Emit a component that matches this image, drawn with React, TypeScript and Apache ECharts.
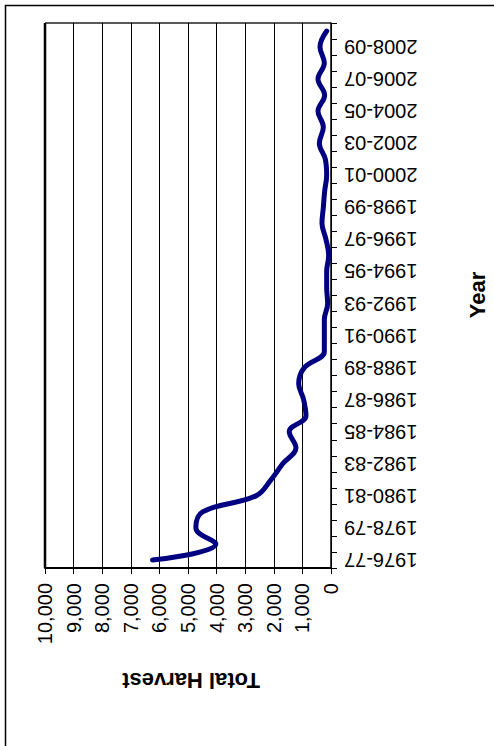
import React, { useEffect, useRef } from "react";
import * as echarts from "echarts";

const categories = [
  "1976-77", "1977-78", "1978-79", "1979-80", "1980-81", "1981-82", "1982-83", "1983-84",
  "1984-85", "1985-86", "1986-87", "1987-88", "1988-89", "1989-90", "1990-91", "1991-92",
  "1992-93", "1993-94", "1994-95", "1995-96", "1996-97", "1997-98", "1998-99", "1999-00",
  "2000-01", "2001-02", "2002-03", "2003-04", "2004-05", "2005-06", "2006-07", "2007-08",
  "2008-09", "2009-10",
];

const harvest = [
  6240, 4025, 4725, 4490, 2625, 2100, 1690, 1225,
  1460, 875, 957, 1130, 933, 233, 233, 233,
  117, 152, 152, 82, 175, 315, 268, 222,
  152, 198, 408, 268, 455, 222, 455, 233,
  385, 150,
];

const valueTicks = { min: 0, max: 10000, interval: 1000 };
const valueAxisTitle = "Total Harvest";
const categoryAxisTitle = "Year";

const FONT = "Arial, 'Liberation Sans', sans-serif";

export default function App() {
  const ref = useRef<HTMLDivElement>(null);
  useEffect(() => {
    if (!ref.current) return;
    const chart = echarts.init(ref.current, undefined, { renderer: "svg" });
    chart.setOption({
      animation: false,
      backgroundColor: "#ffffff",
      grid: { left: 45, right: 163, top: 23, bottom: 178, containLabel: false, show: false },
      xAxis: {
        type: "value",
        inverse: true,
        position: "bottom",
        min: valueTicks.min,
        max: valueTicks.max,
        interval: valueTicks.interval,
        axisLine: { show: true, lineStyle: { color: "#000", width: 2 } },
        axisTick: { show: true, length: 6, lineStyle: { color: "#000", width: 1 } },
        splitLine: { show: true, lineStyle: { color: "#000", width: 1 } },
        axisLabel: {
          rotate: 90,
          margin: 15,
          color: "#000",
          fontSize: 20,
          fontFamily: FONT,
          formatter: (v: number) => v.toLocaleString("en-US"),
        },
      },
      yAxis: {
        type: "category",
        position: "right",
        data: categories,
        boundaryGap: true,
        axisLine: { show: true, onZero: false, lineStyle: { color: "#000", width: 1.5 } },
        axisTick: { show: true, interval: 0, length: 6, alignWithLabel: false, lineStyle: { color: "#000", width: 1 } },
        splitLine: { show: false },
        axisLabel: {
          interval: 1,
          rotate: 180,
          margin: 13,
          color: "#000",
          fontSize: 20,
          fontFamily: FONT,
        },
      },
      series: [
        {
          type: "line",
          data: harvest.map((v, i) => [v, categories[i]]),
          smooth: 0.4,
          symbol: "none",
          lineStyle: { color: "#000080", width: 5, cap: "round", join: "round" },
        },
      ],
      graphic: [
        {
          type: "rect",
          shape: { x: 5.5, y: 5.5, width: 700, height: 900 },
          style: { fill: "none", stroke: "#000", lineWidth: 1.5 },
          silent: true,
        },
        {
          type: "line",
          shape: { x1: 45, y1: 23, x2: 331, y2: 23 },
          style: { stroke: "#222", lineWidth: 1.5 },
          silent: true,
        },
        {
          type: "line",
          shape: { x1: 45, y1: 23, x2: 45, y2: 568 },
          style: { stroke: "#000", lineWidth: 2.5 },
          silent: true,
        },
        {
          type: "text",
          x: 191,
          y: 680,
          rotation: Math.PI,
          style: {
            text: valueAxisTitle,
            fontSize: 22,
            fontWeight: "bold",
            fontFamily: FONT,
            fill: "#000",
            align: "center",
            verticalAlign: "middle",
          },
        },
        {
          type: "text",
          x: 477,
          y: 295,
          rotation: Math.PI / 2,
          style: {
            text: categoryAxisTitle,
            fontSize: 22,
            fontWeight: "bold",
            fontFamily: FONT,
            fill: "#000",
            align: "center",
            verticalAlign: "middle",
          },
        },
      ],
    });
    return () => chart.dispose();
  }, []);
  return (
    <div
      ref={ref}
      style={{ position: "fixed", left: 0, top: 0, width: 494, height: 746, background: "#fff" }}
    />
  );
}
